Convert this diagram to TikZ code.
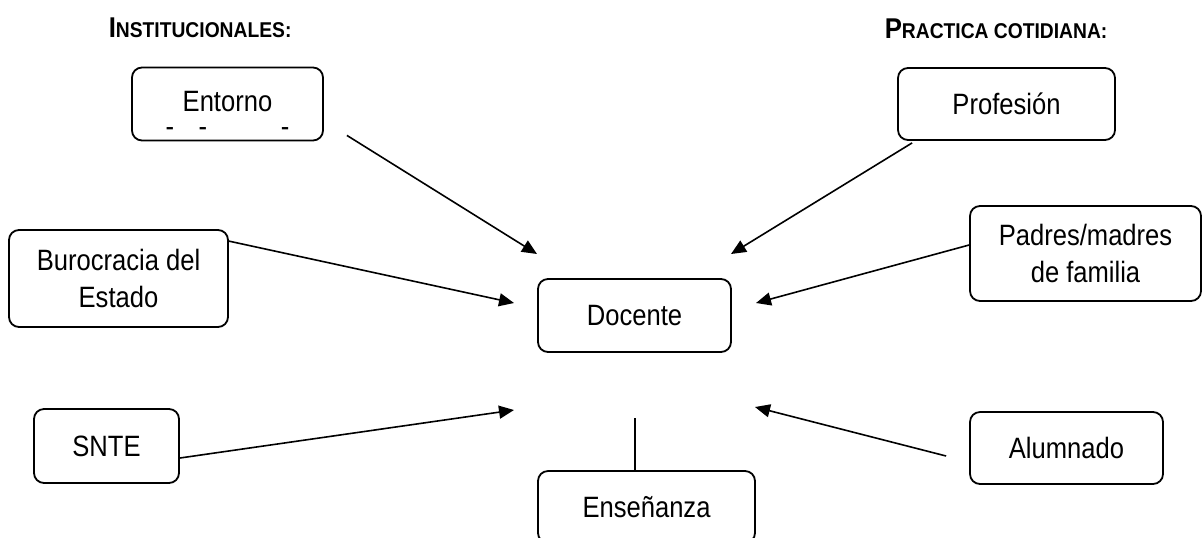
\documentclass[tikz,border=0pt]{standalone}
\usepackage{fontspec}
\setmainfont[FakeStretch=0.87]{Liberation Sans}
\newfontfamily\headfont[FakeStretch=0.9]{Liberation Sans}
\usetikzlibrary{arrows.meta}

\begin{document}
\begin{tikzpicture}[x=0.5pt, y=-0.5pt, line width=0.8pt, >={Triangle[length=7.5pt,width=6.5pt]},
		caja/.style={draw, rounded corners=5pt, line width=0.9pt, align=center, inner sep=2pt, font=\fontsize{14.7}{18.5}\selectfont},
		titulo/.style={anchor=base west, inner sep=0pt, font=\headfont\bfseries\fontsize{10.7}{12}\selectfont}]
	\useasboundingbox (0,0) rectangle (1202,537);

	\node[titulo] (inst) at (108,37) {{\fontsize{14.3}{16}\selectfont I}NSTITUCIONALES:};
	\node[titulo] (prac) at (884,38) {{\fontsize{14.3}{16}\selectfont P}RACTICA COTIDIANA:};

	\node[caja, minimum width=95.5pt, minimum height=36pt] (entorno) at (227.5,104) {\rule{0pt}{20pt}Entorno\\[-6pt]-\hspace{12.3pt}-\hspace{36.8pt}-};
	\node[caja, minimum width=108.5pt, minimum height=36pt] (prof) at (1006.5,104) {Profesión};
	\node[caja, minimum width=109.5pt, minimum height=48.5pt] (buro) at (118.5,278.5) {Burocracia del\\Estado};
	\node[caja, minimum width=96.5pt, minimum height=36.5pt] (docente) at (634.5,315.5) {Docente};
	\node[caja, minimum width=115.5pt, minimum height=47.5pt] (padres) at (1085.5,253.5) {Padres/madres\\de familia};
	\node[caja, minimum width=72.5pt, minimum height=37pt] (snte) at (106.5,446) {SNTE};
	\node[caja, minimum width=96.5pt, minimum height=36pt] (alum) at (1066.5,448) {Alumnado};
	\node[caja, minimum width=108.5pt, minimum height=36pt] (ens) at (646.5,507) {Enseñanza};

	% puntas libres alrededor de Docente
	\coordinate (pe) at (537,254);
	\coordinate (pp) at (731,254);
	\coordinate (pb) at (514,303);
	\coordinate (pm) at (756,303);
	\coordinate (ps) at (514,410);
	\coordinate (pa) at (755,407);
	\coordinate (pens) at (635,418);

	\path[draw,->] ([xshift=11.5pt,yshift=3pt]entorno.south east) -- (pe);
	\path[draw,->] ([xshift=7.5pt,yshift=-1pt]prof.south west) -- (pp);
	\path[draw,->] ([yshift=-6pt]buro.north east) -- (pb);
	\path[draw,->] ([yshift=4.25pt]padres.west) -- (pm);
	\path[draw,->] ([yshift=-6pt]snte.east) -- (ps);
	\path[draw,->] ([xshift=-11.5pt,yshift=-4pt]alum.west) -- (pa);
	\path[draw] (pens) -- (pens |- ens.north);
\end{tikzpicture}
\end{document}
